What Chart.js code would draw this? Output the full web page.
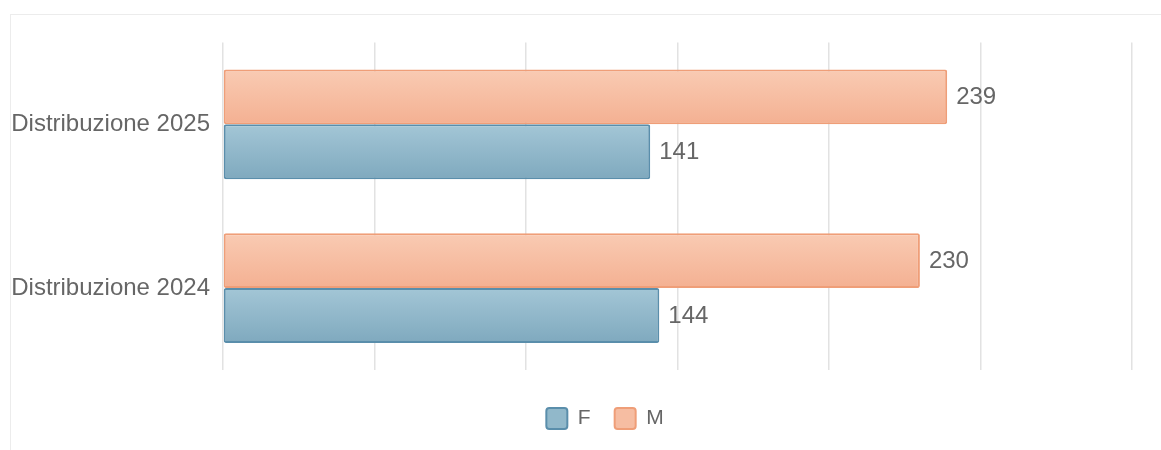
<!DOCTYPE html>
<html>
<head>
<meta charset="utf-8">
<script src="https://cdn.jsdelivr.net/npm/chart.js@4/dist/chart.umd.min.js"></script>
<style>
  html, body { margin: 0; padding: 0; background: #fff; overflow: hidden; width: 1161px; height: 450px; }
  #box { position: absolute; left: 10px; top: 14px; width: 1188px; height: 440px; border: 1px solid #ececec; background: #fff; }
  canvas { display: block; }
</style>
</head>
<body>
<div id="box"><canvas id="c" width="1188" height="436"></canvas></div>
<script>
const categories = ['Distribuzione 2025', 'Distribuzione 2024'];
const seriesM = [239, 230];
const seriesF = [141, 144];
const seriesNames = ['M', 'F'];
const xTicks = [0, 50, 100, 150, 200, 250, 300];

const CAT_PCT = 0.67, BAR_PCT = 1;
const FONT = "'Liberation Sans', Arial, sans-serif";

function barGradient(ctx, top, bottom, solid) {
  const chart = ctx.chart;
  const ys = chart.scales && chart.scales.y;
  if (ctx.type !== 'data' || !ys || !ys.height) return solid;
  const n = chart.data.datasets.length;
  const center = ys.getPixelForValue(ctx.dataIndex);
  const catH = ys.height / categories.length;
  const full = catH * CAT_PCT;
  const slot = full / n;
  const barH = slot * BAR_PCT;
  const c = center - full / 2 + slot * (ctx.datasetIndex + 0.5);
  const g = chart.ctx.createLinearGradient(0, c - barH / 2, 0, c + barH / 2);
  g.addColorStop(0, top);
  g.addColorStop(1, bottom);
  return g;
}

const valueLabels = {
  id: 'valueLabels',
  afterDatasetsDraw(chart) {
    const ctx = chart.ctx;
    ctx.save();
    ctx.font = '24px ' + FONT;
    ctx.fillStyle = '#666';
    ctx.textBaseline = 'middle';
    ctx.textAlign = 'left';
    chart.data.datasets.forEach((ds, di) => {
      const meta = chart.getDatasetMeta(di);
      meta.data.forEach((el, i) => {
        ctx.fillText(String(ds.data[i]), el.x + 9, el.y + 1);
      });
    });
    ctx.restore();
  }
};

new Chart(document.getElementById('c'), {
  type: 'bar',
  data: {
    labels: categories,
    datasets: [
      {
        label: seriesNames[0],
        data: seriesM,
        backgroundColor: (ctx) => barGradient(ctx, '#f9cbb3', '#f4b092', '#f6bda2'),
        borderColor: '#ef9e78',
        borderWidth: 2,
        borderSkipped: false,
        borderRadius: 2,
        categoryPercentage: CAT_PCT,
        barPercentage: BAR_PCT
      },
      {
        label: seriesNames[1],
        data: seriesF,
        backgroundColor: (ctx) => barGradient(ctx, '#a3c6d6', '#7fa9be', '#91b8ca'),
        borderColor: '#5a8eab',
        borderWidth: 2,
        borderSkipped: false,
        borderRadius: 2,
        categoryPercentage: CAT_PCT,
        barPercentage: BAR_PCT
      }
    ]
  },
  options: {
    indexAxis: 'y',
    responsive: false,
    devicePixelRatio: 1,
    animation: false,
    layout: { padding: { top: 27, right: 0, bottom: 12, left: 0 } },
    scales: {
      x: {
        min: xTicks[0],
        max: xTicks[xTicks.length - 1],
        afterBuildTicks(scale) { scale.ticks = xTicks.map(v => ({ value: v })); },
        ticks: { display: false },
        grid: { color: '#e2e2e2', lineWidth: 1.5, drawTicks: false },
        border: { display: false },
        afterFit(scale) { scale.height = 14; }
      },
      y: {
        grid: { display: false, drawTicks: false },
        border: { display: false },
        ticks: { color: '#666', font: { family: FONT, size: 24 }, padding: 13 },
        afterFit(scale) { scale.width = 212; }
      },
      yRight: {
        type: 'category',
        axis: 'y',
        position: 'right',
        grid: { display: false, drawTicks: false },
        border: { display: false },
        ticks: { display: false },
        afterFit(scale) { scale.width = 67; }
      }
    },
    plugins: {
      tooltip: { enabled: false },
      legend: {
        position: 'bottom',
        reverse: true,
        labels: {
          color: '#666',
          font: { family: FONT, size: 21 },
          boxWidth: 21,
          boxHeight: 21,
          padding: 24,
          useBorderRadius: true,
          borderRadius: 3,
          generateLabels(chart) {
            const fills = ['#f6bda2', '#91b8ca'];
            return chart.data.datasets.map((ds, i) => ({
              text: ds.label,
              fillStyle: fills[i],
              strokeStyle: ds.borderColor,
              lineWidth: 2,
              borderRadius: 3,
              hidden: false,
              datasetIndex: i,
              fontColor: '#666'
            }));
          }
        }
      }
    }
  },
  plugins: [valueLabels]
});
</script>
</body>
</html>
